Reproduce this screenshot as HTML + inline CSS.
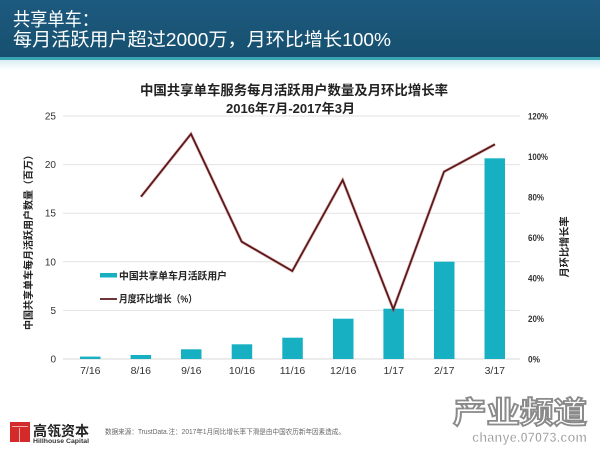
<!DOCTYPE html>
<html><head><meta charset="utf-8"><style>
html,body{margin:0;padding:0;background:#fff;}
svg{display:block;}
text{font-family:"Liberation Sans","Noto Sans CJK SC",sans-serif;}
</style></head><body>
<svg width="600" height="450" viewBox="0 0 600 450" xmlns="http://www.w3.org/2000/svg">
<defs>
<linearGradient id="hg" x1="0" y1="0" x2="0" y2="1">
<stop offset="0" stop-color="#1d5a7f"/><stop offset="1" stop-color="#17506f"/>
</linearGradient>
<linearGradient id="sg" x1="0" y1="0" x2="0" y2="1">
<stop offset="0" stop-color="#d9eef2"/><stop offset="1" stop-color="#ffffff"/>
</linearGradient>
</defs>
<rect x="0" y="0" width="600" height="450" fill="#fff"/>
<!-- header -->
<rect x="0" y="0" width="600" height="57" fill="url(#hg)"/>
<rect x="0" y="57" width="600" height="3" fill="#3aa3b4"/>
<rect x="0" y="60" width="600" height="10" fill="url(#sg)"/>
<text x="13" y="26" font-size="18.5" fill="#fff" textLength="86" lengthAdjust="spacingAndGlyphs">共享单车：</text>
<text x="13" y="46" font-size="18.5" fill="#fff" textLength="378" lengthAdjust="spacingAndGlyphs">每月活跃用户超过2000万，月环比增长100%</text>

<!-- chart title -->
<text x="140" y="95" font-size="13.4" font-weight="bold" fill="#222" textLength="308" lengthAdjust="spacingAndGlyphs">中国共享单车服务每月活跃用户数量及月环比增长率</text>
<text x="226" y="113" font-size="13" font-weight="bold" fill="#222" textLength="129" lengthAdjust="spacingAndGlyphs">2016年7月-2017年3月</text>

<!-- grid -->
<g stroke="#e2e2e2" stroke-width="1">
<line x1="63" y1="116" x2="520" y2="116"/>
<line x1="63" y1="164.6" x2="520" y2="164.6"/>
<line x1="63" y1="213.2" x2="520" y2="213.2"/>
<line x1="63" y1="261.8" x2="520" y2="261.8"/>
<line x1="63" y1="310.4" x2="520" y2="310.4"/>
<line x1="63" y1="359" x2="520" y2="359" stroke="#d8d8d8"/>
</g>

<!-- left tick labels -->
<g font-size="10" fill="#333" text-anchor="end">
<text x="56" y="119.5">25</text>
<text x="56" y="168">20</text>
<text x="56" y="216.7">15</text>
<text x="56" y="265.3">10</text>
<text x="56" y="314">5</text>
<text x="56" y="362.5">0</text>
</g>
<!-- right tick labels -->
<g font-size="9" font-weight="bold" fill="#333">
<text x="528" y="119.5" textLength="20" lengthAdjust="spacingAndGlyphs">120%</text>
<text x="528" y="160" textLength="20" lengthAdjust="spacingAndGlyphs">100%</text>
<text x="528" y="200.5" textLength="16" lengthAdjust="spacingAndGlyphs">80%</text>
<text x="528" y="241" textLength="16" lengthAdjust="spacingAndGlyphs">60%</text>
<text x="528" y="281.5" textLength="16" lengthAdjust="spacingAndGlyphs">40%</text>
<text x="528" y="322" textLength="16" lengthAdjust="spacingAndGlyphs">20%</text>
<text x="528" y="362.5" textLength="12" lengthAdjust="spacingAndGlyphs">0%</text>
</g>

<!-- axis titles -->
<text transform="translate(32,240) rotate(-90)" font-size="10" font-weight="bold" fill="#222" text-anchor="middle" textLength="180" lengthAdjust="spacingAndGlyphs">中国共享单车每月活跃用户数量（百万）</text>
<text transform="translate(568,247) rotate(-90)" font-size="10" font-weight="bold" fill="#222" text-anchor="middle" textLength="61" lengthAdjust="spacingAndGlyphs">月环比增长率</text>

<!-- bars -->
<g fill="#17b0c2">
<rect x="80" y="356.6" width="20.5" height="2.4"/>
<rect x="130.6" y="355" width="20.5" height="4"/>
<rect x="181" y="349.3" width="20.5" height="9.7"/>
<rect x="231.7" y="344.3" width="20.5" height="14.7"/>
<rect x="282.3" y="337.7" width="20.5" height="21.3"/>
<rect x="333" y="318.7" width="20.5" height="40.3"/>
<rect x="383.4" y="308.7" width="20.5" height="50.3"/>
<rect x="434" y="261.7" width="20.5" height="97.3"/>
<rect x="484.5" y="158.3" width="20.5" height="200.7"/>
</g>

<!-- line -->
<polyline points="141,196.7 191,134 241.7,241.7 292.3,271 342.7,180 393.3,309.3 444,171.7 495,144.3" fill="none" stroke="#c05050" stroke-opacity="0.35" stroke-width="3.2" stroke-linejoin="miter"/>
<polyline points="141,196.7 191,134 241.7,241.7 292.3,271 342.7,180 393.3,309.3 444,171.7 495,144.3" fill="none" stroke="#5a1a1c" stroke-width="1.8" stroke-linejoin="miter"/>

<!-- legend -->
<rect x="100" y="273" width="17" height="4.5" fill="#17b0c2"/>
<text x="119" y="279.5" font-size="10" font-weight="bold" fill="#222" textLength="108" lengthAdjust="spacingAndGlyphs">中国共享单车月活跃用户</text>
<line x1="100" y1="299" x2="117" y2="299" stroke="#5a1a1c" stroke-width="1.8"/>
<text x="119" y="302.5" font-size="10" font-weight="bold" fill="#222" textLength="78" lengthAdjust="spacingAndGlyphs">月度环比增长（%）</text>

<!-- x labels -->
<g font-size="10.5" fill="#333" text-anchor="middle">
<text x="90.3" y="374">7/16</text>
<text x="140.8" y="374">8/16</text>
<text x="191.3" y="374">9/16</text>
<text x="242" y="374">10/16</text>
<text x="292.5" y="374">11/16</text>
<text x="343.2" y="374">12/16</text>
<text x="393.7" y="374">1/17</text>
<text x="444.2" y="374">2/17</text>
<text x="494.8" y="374">3/17</text>
</g>

<!-- footer logo -->
<rect x="10" y="422" width="20" height="20" fill="#d42a2a"/>
<rect x="19" y="428" width="1" height="14" fill="#f3b0b0"/>
<rect x="12" y="426" width="16" height="1" fill="#f3b0b0"/>
<text x="33" y="436" font-size="14" font-weight="bold" fill="#222" textLength="56" lengthAdjust="spacingAndGlyphs">高瓴资本</text>
<text x="33" y="443" font-size="6.5" font-weight="bold" fill="#333" textLength="56" lengthAdjust="spacingAndGlyphs">Hillhouse Capital</text>
<text x="105" y="434" font-size="7" fill="#666" textLength="240" lengthAdjust="spacingAndGlyphs">数据来源：TrustData.注：2017年1月同比增长率下滑是由中国农历新年因素造成。</text>

<!-- watermark -->
<text x="453" y="423" font-size="30" font-weight="bold" fill="#ffffff" stroke="#8a8a8a" stroke-width="1.8" textLength="134" lengthAdjust="spacingAndGlyphs">产业频道</text>
<text x="472" y="442" font-size="14" font-weight="bold" fill="#a0a0a0" stroke="#ffffff" stroke-width="0.6" textLength="115" lengthAdjust="spacingAndGlyphs">chanye.07073.com</text>
</svg>
</body></html>
